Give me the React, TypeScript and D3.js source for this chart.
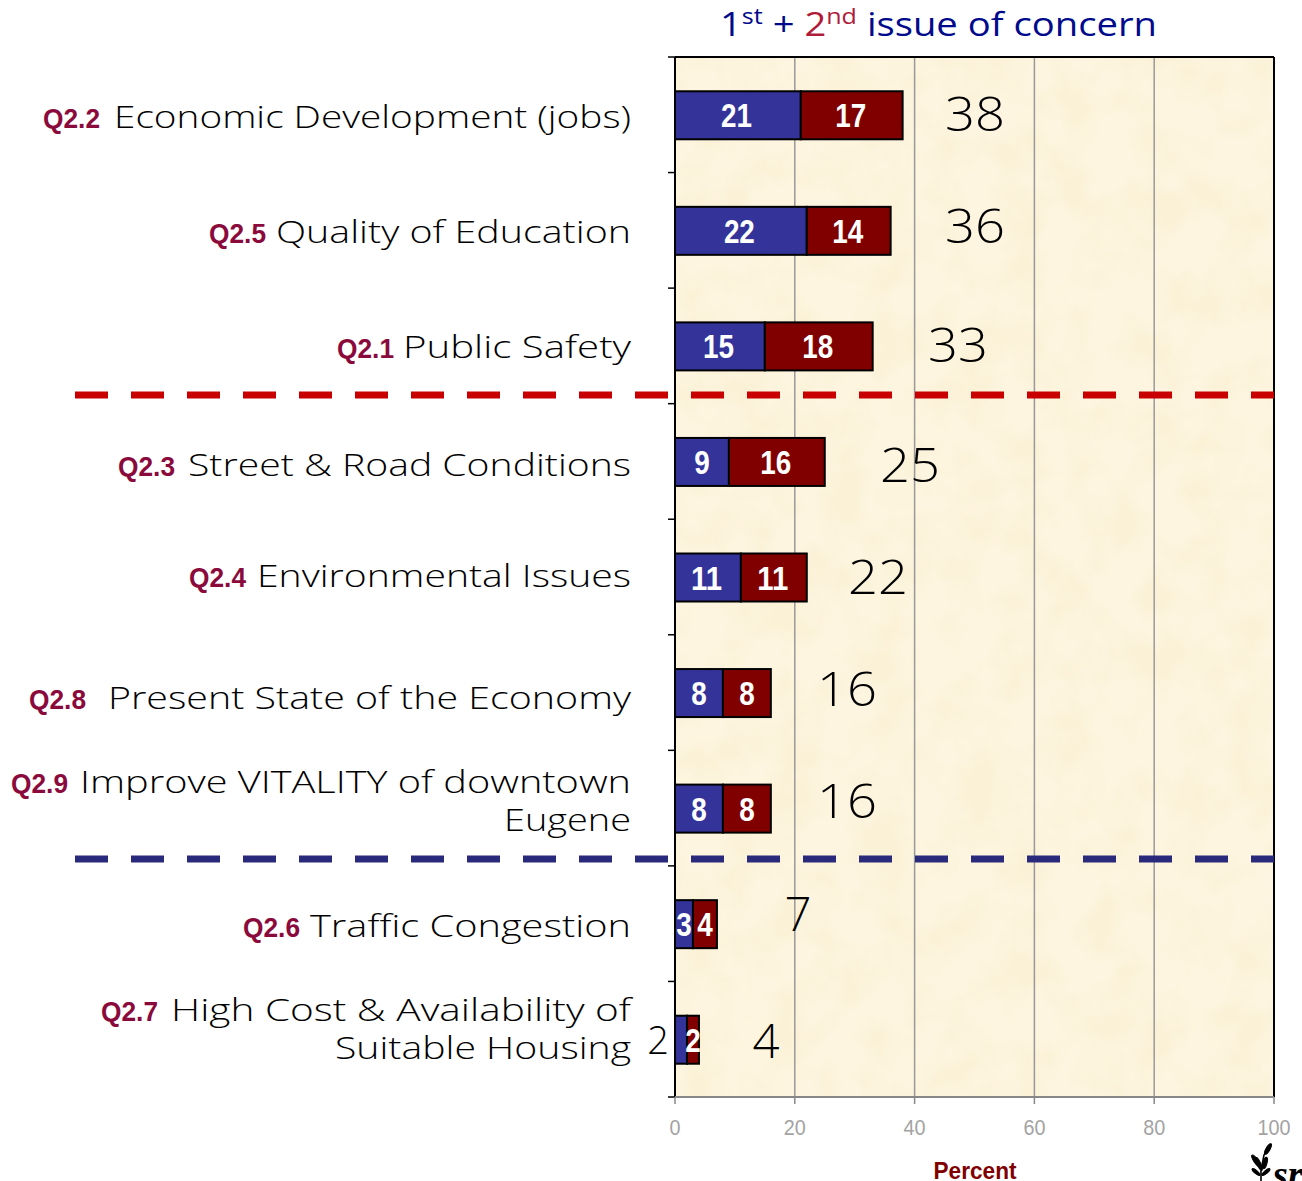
import React from "react";
import * as d3 from "d3";

const codes = ["Q2.2", "Q2.5", "Q2.1", "Q2.3", "Q2.4", "Q2.8", "Q2.9", "Q2.6", "Q2.7"];
const labelLines = [
  ["Economic Development (jobs)"],
  ["Quality of Education"],
  ["Public Safety"],
  ["Street & Road Conditions"],
  ["Environmental Issues"],
  ["Present State of the Economy"],
  ["Improve VITALITY of downtown", "Eugene"],
  ["Traffic Congestion"],
  ["High Cost & Availability of", "Suitable Housing"],
];
const first = [21, 22, 15, 9, 11, 8, 8, 3, 2];
const second = [17, 14, 18, 16, 11, 8, 8, 4, 2];
const totals = [38, 36, 33, 25, 22, 16, 16, 7, 4];
const xTicks = [0, 20, 40, 60, 80, 100];

// layout tweaks (pixels), not data
const totalX = [975, 975, 958, 910, 878, 847, 847, 798, 766];
const totalY = [131, 243, 362, 482, 594, 706, 818, 931, 1058];
const labelY = [[128], [243], [358], [476], [587], [709], [793, 831], [937], [1021, 1059]];
const labelW = [[517], [355], [228], [443], [374], [523], [551, 127], [321], [460, 296]];
const codeX = [43, 209, 337, 118, 189, 29, 11, 243, 101];
const labelFont = "'Open Sans', sans-serif";
const barFont = "'Liberation Sans', sans-serif";
const W = 1302, H = 1181;
const left = 675, right = 1274, top = 57, bottom = 1097;

export default function App() {
  const x = d3.scaleLinear().domain([0, 100]).range([left, right]);
  const y = d3.scaleBand<number>().domain(d3.range(codes.length)).range([top, bottom]).paddingInner(0.585).paddingOuter(0.2925);
  const bh = 48;
  const bandC = (i: number) => y(i)! + y.bandwidth() / 2;
  const yTicks = d3.range(codes.length + 1).map((i) => top + ((bottom - top) * i) / codes.length);
  const numW = (v: number) => (v >= 10 ? 31 : 15.5);
  return (
    <svg width={W} height={H} style={{ position: "absolute", left: 0, top: 0, display: "block", background: "#fff" }}>
      <defs>
        <filter id="paper" x="0" y="0" width="100%" height="100%">
          <feTurbulence type="fractalNoise" baseFrequency="0.022" numOctaves="4" seed="4" />
          <feColorMatrix type="matrix" values="0 0 0 0 0.96  0 0 0 0 0.88  0 0 0 0 0.68  3 0 0 0 -1.2" />
          <feComposite in2="SourceGraphic" operator="in" />
          <feMerge><feMergeNode in="SourceGraphic" /><feMergeNode /></feMerge>
        </filter>
      </defs>
      <text x={720} y={36} fontFamily={labelFont} fontSize={32} fontWeight={400} fill="#000a8c" textLength={437} lengthAdjust="spacingAndGlyphs">
        <tspan>1</tspan>
        <tspan dy={-12} fontSize={21}>st</tspan>
        <tspan dy={12}> + </tspan>
        <tspan fill="#b01c3a">2</tspan>
        <tspan dy={-12} fontSize={21} fill="#b01c3a">nd</tspan>
        <tspan dy={12}> issue of concern</tspan>
      </text>
      <rect x={left} y={top} width={right - left} height={bottom - top} fill="#fef5e0" filter="url(#paper)" />
      {xTicks.slice(1, -1).map((t) => (
        <line key={t} x1={x(t)} x2={x(t)} y1={top} y2={bottom} stroke="#999" strokeWidth={1.5} />
      ))}
      <line x1={left} x2={right} y1={top} y2={top} stroke="#000" strokeWidth={2} />
      <line x1={right} x2={right} y1={top} y2={bottom} stroke="#000" strokeWidth={2} />
      <line x1={left} x2={left} y1={top} y2={bottom} stroke="#000" strokeWidth={2} />
      <line x1={left} x2={right} y1={bottom} y2={bottom} stroke="#888" strokeWidth={2} />
      {yTicks.map((t, i) => (
        <line key={i} x1={left - 7} x2={left} y1={t} y2={t} stroke="#000" strokeWidth={1.5} />
      ))}
      {xTicks.map((t) => (
        <g key={t}>
          <line x1={x(t)} x2={x(t)} y1={bottom} y2={bottom + 7} stroke="#888" strokeWidth={1.5} />
          <text x={x(t)} y={1135} textAnchor="middle" fontFamily={barFont} fontSize={22} fill="#a3a3a3" textLength={t === 100 ? 33 : t === 0 ? 11 : 22} lengthAdjust="spacingAndGlyphs">{t}</text>
        </g>
      ))}
      {codes.map((c, i) => {
        const cy = bandC(i) + 0.5;
        const by = cy - bh / 2;
        return (
          <g key={c}>
            <rect x={x(0)} y={by} width={x(first[i]) - x(0)} height={bh} fill="#333399" stroke="#000" strokeWidth={2} />
            <rect x={x(first[i])} y={by} width={x(first[i] + second[i]) - x(first[i])} height={bh} fill="#800000" stroke="#000" strokeWidth={2} />
            {i < 8 ? (
              <text x={x(first[i] / 2) - (first[i] >= 10 ? 1.5 : 0)} y={cy + 12} textAnchor="middle" fontFamily={barFont} fontWeight={700} fontSize={33} fill="#fff" textLength={numW(first[i])} lengthAdjust="spacingAndGlyphs">{first[i]}</text>
            ) : (
              <text x={658} y={cy + 14} textAnchor="middle" fontFamily={labelFont} fontWeight={300} fontSize={38} fill="#000">{first[i]}</text>
            )}
            <text x={x(first[i] + second[i] / 2) - (second[i] >= 10 ? 1 : 0)} y={cy + 12} textAnchor="middle" fontFamily={barFont} fontWeight={700} fontSize={33} fill="#fff" textLength={numW(second[i])} lengthAdjust="spacingAndGlyphs">{second[i]}</text>
            <text x={totalX[i]} y={totalY[i]} textAnchor="middle" fontFamily={labelFont} fontWeight={300} fontSize={48} fill="#000" textLength={totals[i] >= 10 ? 60 : 27} lengthAdjust="spacingAndGlyphs">{totals[i]}</text>
            <text x={codeX[i]} y={labelY[i][0]} fontFamily={barFont} fontWeight={700} fontSize={28} fill="#8b0a3c" textLength={57} lengthAdjust="spacingAndGlyphs">{c}</text>
            {labelLines[i].map((ln, j) => (
              <text key={j} x={631 - labelW[i][j]} y={labelY[i][j]} fontFamily={labelFont} fontWeight={300} fontSize={32} fill="#000" textLength={labelW[i][j]} lengthAdjust="spacingAndGlyphs">{ln}</text>
            ))}
          </g>
        );
      })}
      <line x1={75} x2={1274} y1={395} y2={395} stroke="#c80000" strokeWidth={7} strokeDasharray="33 23" />
      <line x1={75} x2={1274} y1={859} y2={859} stroke="#2a2a7c" strokeWidth={7} strokeDasharray="33 23" />
      <text x={975} y={1179} textAnchor="middle" fontFamily={barFont} fontWeight={700} fontSize={24} textLength={83} lengthAdjust="spacingAndGlyphs" fill="#800000">Percent</text>
      <g fill="#000" stroke="#000" strokeWidth={1}>
        <path d="M1271 1144 L1264 1155 L1261 1170 L1261 1181" fill="none" strokeWidth={1.6} />
        <ellipse cx={1268} cy={1149} rx={2} ry={6} transform="rotate(30 1268 1149)" />
        <ellipse cx={1256} cy={1161} rx={2} ry={7} transform="rotate(-35 1256 1161)" />
        <ellipse cx={1259} cy={1164} rx={1.8} ry={7} transform="rotate(-25 1259 1164)" />
        <ellipse cx={1265} cy={1163} rx={2} ry={6} transform="rotate(15 1265 1163)" />
        <ellipse cx={1256} cy={1172} rx={1.6} ry={5} transform="rotate(-50 1256 1172)" />
        <ellipse cx={1266} cy={1172} rx={1.6} ry={5} transform="rotate(50 1266 1172)" />
      </g>
      <text x={1273} y={1187} fontFamily="'Liberation Serif', serif" fontStyle="italic" fontWeight={700} fontSize={38} fill="#000">sr</text>
    </svg>
  );
}
